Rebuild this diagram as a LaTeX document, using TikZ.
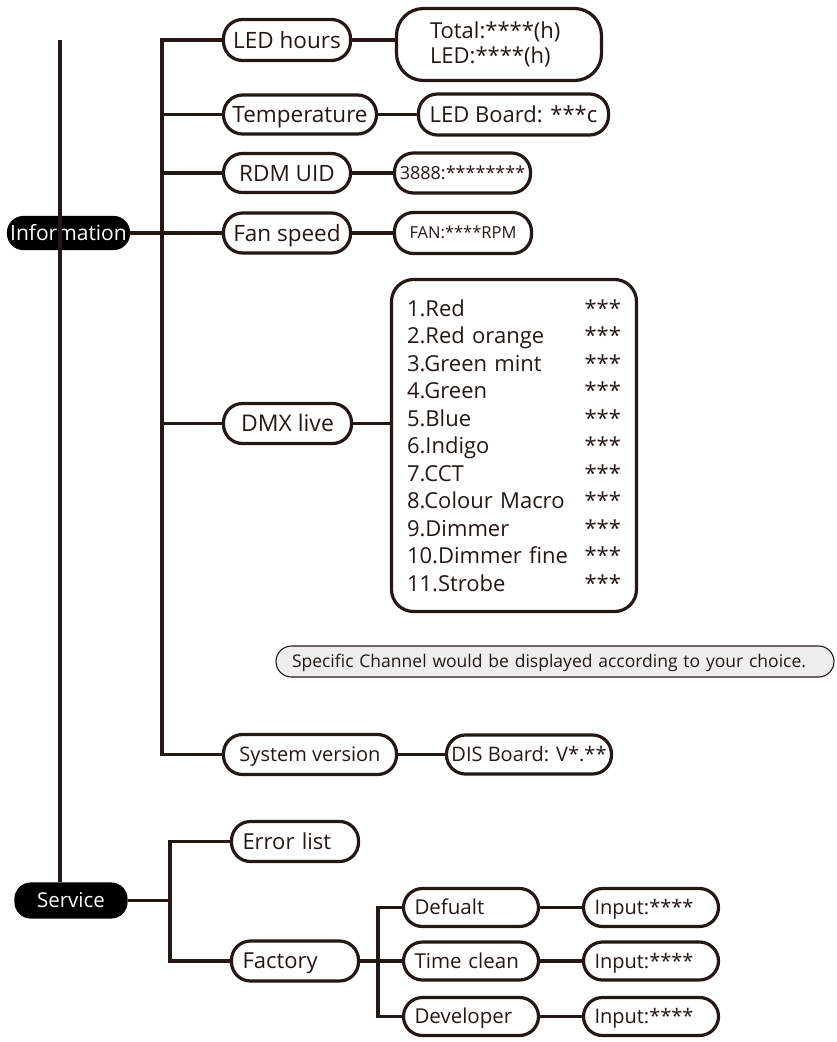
\documentclass[tikz,border=0pt]{standalone}
\usepackage{fontspec}
\setmainfont{Open Sans}
\definecolor{ink}{HTML}{231815}
\definecolor{notefill}{HTML}{EEEEEE}
\tikzset{
  fs/.style={font=\fontsize{#1}{#1}\selectfont, text height={0.714*#1pt}, text depth=0pt},
  pill/.style={draw=ink, line width=3.2pt, rounded corners=19pt, fill=white, text=ink,
               inner sep=0pt, minimum height=40pt, minimum width=127pt},
  dark/.style={pill, fill=black, draw=black, text=white, rounded corners=15pt, minimum height=31pt},
  lpill/.style={pill, align=left, text width=#1, inner xsep=11pt},
  conn/.style={draw=ink, line width=3.1pt},
}
\begin{document}
\begin{tikzpicture}[x=1pt,y=-1pt]
\fill[white] (0,0) rectangle (836,1042);
\useasboundingbox (0,0) rectangle (836,1042);

% level 0
\node[dark, fs=21, minimum width=120pt] (info) at (68.5,233) {Information};
\node[dark, fs=20.5, minimum width=110pt, minimum height=33pt] (serv) at (71,900.5) {Service};

% information branch
\node[pill, fs=22.5, minimum height=41pt] (ledh) at (287,40) {LED hours};
\node[pill, fs=22.5, minimum width=153pt, minimum height=39pt] (temp) at (300,114.5) {Temperature};
\node[pill, fs=22.5, minimum height=39pt] (rdm) at (287,173) {RDM UID};
\node[pill, fs=22.5] (fan) at (287,233) {Fan speed};
\node[pill, fs=23, minimum width=128pt] (dmx) at (287.5,423.5) {DMX live};
\node[pill, fs=20, minimum width=173pt] (sysv) at (310,754.5) {System version};

\node[pill, rounded corners=27pt, minimum width=205pt, minimum height=72pt,
      align=left, text width=138pt, inner xsep=33.5pt,
      font=\fontsize{22}{25}\selectfont] (tot) at (499,44.5) {Total:****(h)\\LED:****(h)};
\node[pill, fs=22, minimum width=190pt, minimum height=41pt] (ledb) at (513.5,114.5) {LED Board: ***c};
\node[pill, fs=18, minimum width=136pt] (uid) at (462.5,173) {3888:********};
\node[pill, fs=16.5, minimum width=137pt, minimum height=41pt] (fanv) at (463,233) {FAN:****RPM};
\node[pill, rounded corners=22pt, minimum width=245pt, minimum height=332pt,
      align=left, text width=214pt, inner xsep=15.5pt,
      font=\fontsize{22}{27.5}\selectfont] (list) at (514,445.5)
  {1.Red\hfill***\\2.Red orange\hfill***\\3.Green mint\hfill***\\4.Green\hfill***\\
   5.Blue\hfill***\\6.Indigo\hfill***\\7.CCT\hfill***\\8.Colour Macro\hfill***\\
   9.Dimmer\hfill***\\10.Dimmer fine\hfill***\\11.Strobe\hfill***};
\node[draw=ink, line width=1.1pt, fill=notefill, text=ink, rounded corners=15.5pt,
      minimum width=558pt, minimum height=31pt, inner sep=0pt, inner xsep=16pt,
      align=left, text width=526pt, fs=17.5] (note) at (555,661.5)
  {Specific Channel would be displayed according to your choice.};
\node[pill, fs=20, minimum width=165pt, minimum height=39pt] (dis) at (529,754.5) {DIS Board: V*.**};

% service branch
\node[lpill=105pt, fs=22] (err) at (295,841.5) {Error list};
\node[lpill=105pt, fs=22] (fac) at (295,961) {Factory};
\node[lpill=113pt, fs=20.5, minimum height=38pt] (def) at (471,907.5) {Defualt};
\node[lpill=113pt, fs=20.5, minimum height=38pt] (tcl) at (471,961) {Time clean};
\node[lpill=113pt, fs=20.5, minimum height=38pt] (dev) at (471,1016.5) {Developer};
\node[lpill=113pt, fs=20, minimum height=38pt] (in1) at (651,907.5) {Input:****};
\node[lpill=113pt, fs=20, minimum height=38pt] (in2) at (651,961) {Input:****};
\node[lpill=113pt, fs=20, minimum height=38pt] (in3) at (651,1016.5) {Input:****};

% connectors
\coordinate (mtop) at (60,40);
\coordinate (bus) at (162,40);
\coordinate (sbus) at (170,0);
\coordinate (fbus) at (378,0);

\draw[conn] (ledh.west) -- (ledh.west -| bus) -- (bus |- sysv.west) -- (sysv.west);
\foreach \n in {temp,rdm,dmx} \draw[conn] (\n.west) -- (\n.west -| bus);
\draw[conn] (info.east) -- (fan.west);

\draw[conn] (ledh.east) -- (ledh.east -| tot.west);
\draw[conn] (temp.east) -- (ledb.west);
\draw[conn] (rdm.east) -- (uid.west);
\draw[conn] (fan.east) -- (fanv.west);
\draw[conn] (dmx.east) -- (dmx.east -| list.west);
\draw[conn] (sysv.east) -- (dis.west);

\draw[conn] (err.west) -- (err.west -| sbus) -- (sbus |- fac.west) -- (fac.west);
\draw[conn] (serv.east) -- (serv.east -| sbus);
\draw[conn] (def.west) -- (def.west -| fbus) -- (fbus |- dev.west) -- (dev.west);
\draw[conn] (fac.east) -- (tcl.west);
\draw[conn] (def.east) -- (in1.west);
\draw[conn] (tcl.east) -- (in2.west);
\draw[conn] (dev.east) -- (in3.west);

\draw[conn] (mtop) -- (mtop |- serv.north);
\end{tikzpicture}
\end{document}
